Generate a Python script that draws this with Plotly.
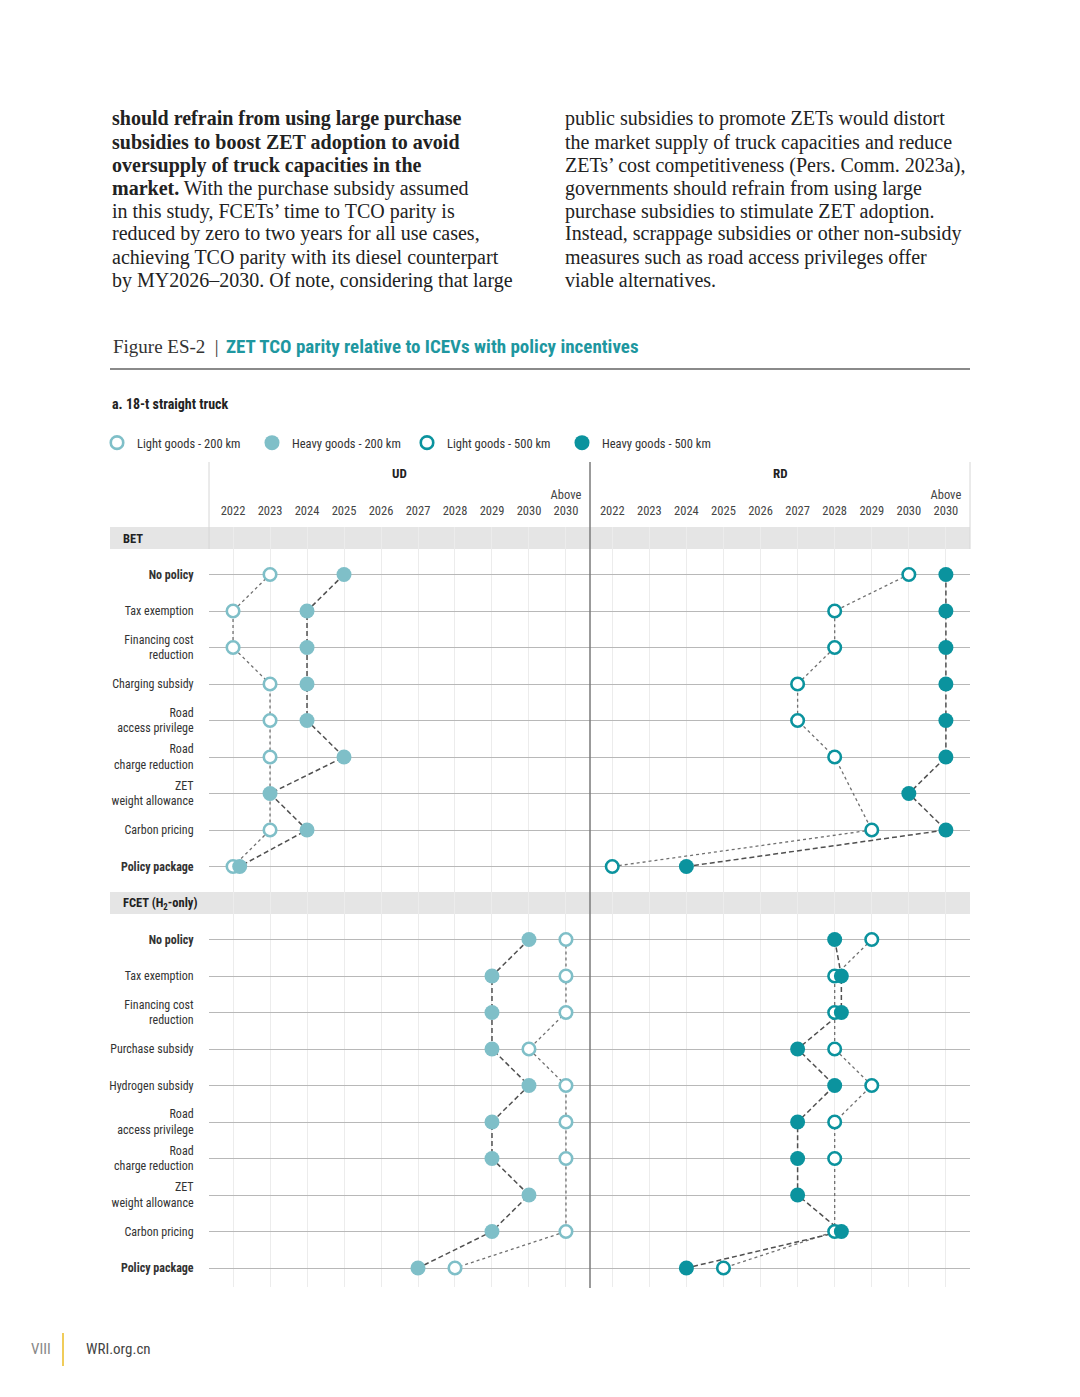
import plotly.graph_objects as go

W, H = 1080, 1397

# ---------------- data ----------------
years = [2022, 2023, 2024, 2025, 2026, 2027, 2028, 2029, 2030, 2031]
year_labels = ["2022", "2023", "2024", "2025", "2026", "2027", "2028", "2029", "2030", "Above<br>2030"]

bet_rows = ["<b>No policy</b>", "Tax exemption", "Financing cost<br>reduction", "Charging subsidy",
            "Road<br>access privilege", "Road<br>charge reduction", "ZET<br>weight allowance",
            "Carbon pricing", "<b>Policy package</b>"]
fcet_rows = ["<b>No policy</b>", "Tax exemption", "Financing cost<br>reduction", "Purchase subsidy",
             "Hydrogen subsidy", "Road<br>access privilege", "Road<br>charge reduction",
             "ZET<br>weight allowance", "Carbon pricing", "<b>Policy package</b>"]

# year of TCO parity (2031 = "Above 2030"); None = not applicable
bet_ud_light = [2023, 2022, 2022, 2023, 2023, 2023, None, 2023, 2022]   # Light goods - 200 km
bet_ud_heavy = [2025, 2024, 2024, 2024, 2024, 2025, 2023, 2024, 2022]   # Heavy goods - 200 km
bet_rd_light = [2030, 2028, 2028, 2027, 2027, 2028, None, 2029, 2022]   # Light goods - 500 km
bet_rd_heavy = [2031, 2031, 2031, 2031, 2031, 2031, 2030, 2031, 2024]   # Heavy goods - 500 km

fcet_ud_light = [2031, 2031, 2031, 2030, 2031, 2031, 2031, None, 2031, 2028]
fcet_ud_heavy = [2030, 2029, 2029, 2029, 2030, 2029, 2029, 2030, 2029, 2027]
fcet_rd_light = [2029, 2028, 2028, 2028, 2029, 2028, 2028, None, 2028, 2025]
fcet_rd_heavy = [2028, 2028, 2028, 2027, 2028, 2027, 2027, 2027, 2028, 2024]

series_names = ["Light goods - 200 km", "Heavy goods - 200 km", "Light goods - 500 km", "Heavy goods - 500 km"]

# ---------------- styles ----------------
LIGHT = "#7FBFC8"
DARK = "#0B939E"
TEAL_TITLE = "#1E97A0"
COND = "Liberation Sans Narrow, Roboto Condensed, Arial Narrow, DejaVu Sans Condensed, sans-serif"
SERIF = "Liberation Serif, DejaVu Serif, serif"
NUDGE = 0.18

bet_idx = list(range(1, 1 + len(bet_rows)))
fcet_idx = list(range(len(bet_rows) + 2, len(bet_rows) + 2 + len(fcet_rows)))
band_idx = [0, len(bet_rows) + 1]


def px_x(p):
    return p / W


def px_y(p):
    return 1 - p / H


def nudge(light, heavy):
    return [h + NUDGE if (h is not None and l is not None and h == l) else h for l, h in zip(light, heavy)]


fig = go.Figure()

panels = [
    ("x", "y", [(bet_idx, bet_ud_light, bet_ud_heavy), (fcet_idx, fcet_ud_light, fcet_ud_heavy)], LIGHT, 0),
    ("x2", "y2", [(bet_idx, bet_rd_light, bet_rd_heavy), (fcet_idx, fcet_rd_light, fcet_rd_heavy)], DARK, 2),
]

# connector lines first
for xa, ya, sections, col, k in panels:
    for idx, light, heavy in sections:
        fig.add_trace(go.Scatter(x=light, y=idx, xaxis=xa, yaxis=ya, mode="lines", connectgaps=True,
                                 line=dict(color="#707070", width=1.3, dash="dot"),
                                 showlegend=False, hoverinfo="skip"))
        fig.add_trace(go.Scatter(x=nudge(light, heavy), y=idx, xaxis=xa, yaxis=ya, mode="lines",
                                 connectgaps=True,
                                 line=dict(color="#505050", width=1.5, dash="5px,3px"),
                                 showlegend=False, hoverinfo="skip"))

# markers (hollow first, filled on top)
for xa, ya, sections, col, k in panels:
    lx, ly, hx, hy = [], [], [], []
    for idx, light, heavy in sections:
        lx += light
        ly += idx
        hx += nudge(light, heavy)
        hy += idx
    fig.add_trace(go.Scatter(x=lx, y=ly, xaxis=xa, yaxis=ya, mode="markers", name=series_names[k],
                             marker=dict(size=12.5, color="white", line=dict(color=col, width=2.6))))
    fig.add_trace(go.Scatter(x=hx, y=hy, xaxis=xa, yaxis=ya, mode="markers", name=series_names[k + 1],
                             marker=dict(size=15, color=col, line=dict(width=0))))

# ---------------- axes ----------------
y_top_px, y_bot_px = 527, 1287
row_px0, row_step = 538, 36.5
y_range = [(y_bot_px - row_px0) / row_step, (y_top_px - row_px0) / row_step]

xcommon = dict(side="top", tickmode="array", tickvals=years, ticktext=year_labels,
               showgrid=True, gridcolor="#ececec", gridwidth=1, zeroline=False, showline=False,
               ticks="outside", ticklen=6, tickcolor="rgba(0,0,0,0)",
               tickfont=dict(family=COND, size=12.5, color="#444"))
ycommon = dict(range=y_range, tickmode="array", tickvals=bet_idx + fcet_idx,
               showgrid=True, gridcolor="#b8b8b8", gridwidth=1, zeroline=False, showline=False,
               domain=[px_y(y_bot_px), px_y(y_top_px)])

fig.update_layout(
    xaxis=dict(domain=[px_x(209), px_x(590)], range=[2021.35, 2031.65], anchor="y", **xcommon),
    xaxis2=dict(domain=[px_x(590), px_x(970)], range=[2021.4, 2031.65], anchor="y2", **xcommon),
    yaxis=dict(anchor="x", ticktext=bet_rows + fcet_rows, ticks="outside", ticklen=12,
               tickcolor="rgba(0,0,0,0)", tickfont=dict(family=COND, size=12, color="#333"), **ycommon),
    yaxis2=dict(anchor="x2", showticklabels=False, **ycommon),
)

# ---------------- shapes ----------------
shapes = []
for b in band_idx:
    shapes.append(dict(type="rect", xref="paper", yref="y", x0=px_x(110), x1=px_x(970),
                       y0=b - 0.3, y1=b + 0.3, fillcolor="#e5e5e5", line=dict(width=0), layer="below"))
for xp in (209, 970):
    shapes.append(dict(type="line", xref="paper", yref="paper", x0=px_x(xp), x1=px_x(xp),
                       y0=px_y(462), y1=px_y(549), line=dict(color="#d6d6d6", width=1)))
shapes.append(dict(type="line", xref="paper", yref="paper", x0=px_x(590), x1=px_x(590),
                   y0=px_y(462), y1=px_y(1288), line=dict(color="#7a7a7a", width=1.5)))
shapes.append(dict(type="line", xref="paper", yref="paper", x0=px_x(110), x1=px_x(970),
                   y0=px_y(369), y1=px_y(369), line=dict(color="#8a8a8a", width=2)))
shapes.append(dict(type="line", xref="paper", yref="paper", x0=px_x(63), x1=px_x(63),
                   y0=px_y(1333), y1=px_y(1366), line=dict(color="#F0CC5A", width=2)))
fig.update_layout(shapes=shapes)

# ---------------- text ----------------
ann = []


def txt(x, y, text, size=20, family=SERIF, color="#222", anchor="left", **kw):
    ann.append(dict(xref="paper", yref="paper", x=px_x(x), y=px_y(y), text=text, showarrow=False,
                    xanchor=anchor, yanchor="middle", font=dict(family=family, size=size, color=color), **kw))


left_lines = [
    "<b>should refrain from using large purchase</b>",
    "<b>subsidies to boost ZET adoption to avoid</b>",
    "<b>oversupply of truck capacities in the</b>",
    "<b>market.</b> With the purchase subsidy assumed",
    "in this study, FCETs\u2019 time to TCO parity is",
    "reduced by zero to two years for all use cases,",
    "achieving TCO parity with its diesel counterpart",
    "by MY2026\u20132030. Of note, considering that large",
]
right_lines = [
    "public subsidies to promote ZETs would distort",
    "the market supply of truck capacities and reduce",
    "ZETs\u2019 cost competitiveness (Pers. Comm. 2023a),",
    "governments should refrain from using large",
    "purchase subsidies to stimulate ZET adoption.",
    "Instead, scrappage subsidies or other non-subsidy",
    "measures such as road access privileges offer",
    "viable alternatives.",
]
for i, t in enumerate(left_lines):
    txt(110, 119 + i * 23, t)
for i, t in enumerate(right_lines):
    txt(563, 119 + i * 23, t)

txt(111, 347, "Figure ES-2  |", size=19, color="#333")
txt(224, 347, "<b>ZET TCO parity relative to ICEVs with policy incentives</b>", size=19,
    family=COND, color=TEAL_TITLE)
txt(110, 404, "<b>a. 18-t straight truck</b>", size=14, family=COND, color="#222")

ann.append(dict(xref="x domain", yref="paper", x=0.5, y=px_y(473), text="<b>UD</b>", showarrow=False,
                font=dict(family=COND, size=13, color="#222"), yanchor="middle"))
ann.append(dict(xref="x2 domain", yref="paper", x=0.5, y=px_y(473), text="<b>RD</b>", showarrow=False,
                font=dict(family=COND, size=13, color="#222"), yanchor="middle"))

band_labels = ["<b>BET</b>", "<b>FCET (H<sub>2</sub>-only)</b>"]
for b, lab in zip(band_idx, band_labels):
    ann.append(dict(xref="paper", yref="y", x=px_x(121), y=b, text=lab, showarrow=False,
                    xanchor="left", yanchor="middle", font=dict(family=COND, size=12.5, color="#222")))

txt(41, 1349, "VIII", size=15, family=COND, color="#888", anchor="center")
txt(84, 1349, "WRI.org.cn", size=15, family=COND, color="#444")
fig.update_layout(annotations=ann)

fig.update_layout(
    width=W, height=H, margin=dict(l=0, r=0, t=0, b=0),
    paper_bgcolor="white", plot_bgcolor="rgba(0,0,0,0)",
    showlegend=True,
    legend=dict(orientation="h", x=px_x(97), y=px_y(443), xanchor="left", yanchor="middle",
                entrywidth=110, entrywidthmode="pixels", font=dict(family=COND, size=12.5, color="#333"),
                bgcolor="rgba(0,0,0,0)", itemclick=False, traceorder="normal"),
    hovermode=False,
)

fig.write_html("out.html", config={"displayModeBar": False},
               post_script="document.body.style.margin='0px';")
